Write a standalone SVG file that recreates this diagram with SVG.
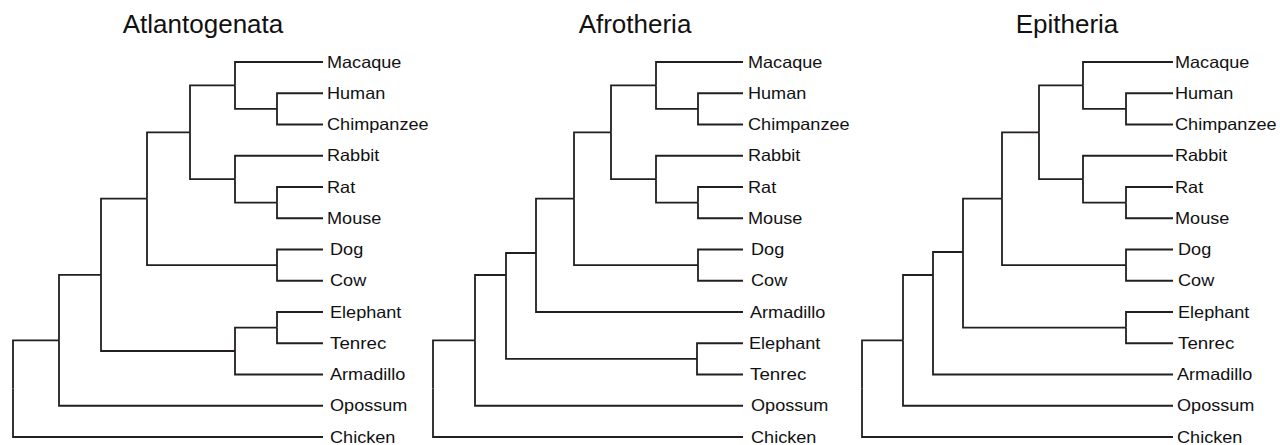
<svg xmlns="http://www.w3.org/2000/svg" width="1280" height="445" viewBox="0 0 1280 445">
<style>
.e{fill:none;stroke:#231f20;stroke-width:1.8;stroke-linejoin:miter;stroke-linecap:butt}
.t{font-family:"Liberation Sans",Arial,sans-serif;font-size:26px;fill:#111;text-anchor:middle}
.l{font-family:"Liberation Sans",Arial,sans-serif;font-size:16.5px;fill:#111}
</style>
<rect width="1280" height="445" fill="#fff"/>
<g id="titles">
<text class="t" x="203" y="33">Atlantogenata</text>
<text class="t" x="635" y="33">Afrotheria</text>
<text class="t" x="1067" y="33">Epitheria</text>
</g>
<g id="connectors">
<g id="tree1-edges">
<path class="e" d="M13 388.6V340.3H59"/>
<path class="e" d="M13 388.6V437H323"/>
<path class="e" d="M59 340.3V274.9H101"/>
<path class="e" d="M59 340.3V405.75H323"/>
<path class="e" d="M101 274.9V198.7H147"/>
<path class="e" d="M101 274.9V351H235"/>
<path class="e" d="M147 198.7V132.3H190"/>
<path class="e" d="M147 198.7V265.1H277"/>
<path class="e" d="M190 132.3V85.4H235"/>
<path class="e" d="M190 132.3V179.2H235"/>
<path class="e" d="M235 85.4V62H323"/>
<path class="e" d="M235 85.4V108.9H277"/>
<path class="e" d="M277 108.9V93.25H323"/>
<path class="e" d="M277 108.9V124.5H323"/>
<path class="e" d="M235 179.2V155.75H323"/>
<path class="e" d="M235 179.2V202.6H277"/>
<path class="e" d="M277 202.6V187H323"/>
<path class="e" d="M277 202.6V218.25H323"/>
<path class="e" d="M277 265.1V249.5H323"/>
<path class="e" d="M277 265.1V280.75H323"/>
<path class="e" d="M235 351V327.6H277"/>
<path class="e" d="M235 351V374.5H323"/>
<path class="e" d="M277 327.6V312H323"/>
<path class="e" d="M277 327.6V343.25H323"/>
</g>
<g id="tree2-edges">
<path class="e" d="M433 388.6V340.4H475"/>
<path class="e" d="M433 388.6V437H743"/>
<path class="e" d="M475 340.4V275H506"/>
<path class="e" d="M475 340.4V405.75H743"/>
<path class="e" d="M506 275V253H536"/>
<path class="e" d="M506 275V358.9H697"/>
<path class="e" d="M536 253V198.7H574"/>
<path class="e" d="M536 253V312H743"/>
<path class="e" d="M574 198.7V132.3H611"/>
<path class="e" d="M574 198.7V265.1H698"/>
<path class="e" d="M611 132.3V85.4H656"/>
<path class="e" d="M611 132.3V179.2H656"/>
<path class="e" d="M656 85.4V62H743"/>
<path class="e" d="M656 85.4V108.9H698"/>
<path class="e" d="M698 108.9V93.25H743"/>
<path class="e" d="M698 108.9V124.5H743"/>
<path class="e" d="M656 179.2V155.75H743"/>
<path class="e" d="M656 179.2V202.6H698"/>
<path class="e" d="M698 202.6V187H743"/>
<path class="e" d="M698 202.6V218.25H743"/>
<path class="e" d="M698 265.1V249.5H743"/>
<path class="e" d="M698 265.1V280.75H743"/>
<path class="e" d="M697 358.9V343.25H743"/>
<path class="e" d="M697 358.9V374.5H743"/>
</g>
<g id="tree3-edges">
<path class="e" d="M862 388.6V340.4H903"/>
<path class="e" d="M862 388.6V437H1173"/>
<path class="e" d="M903 340.4V275H933"/>
<path class="e" d="M903 340.4V405.75H1173"/>
<path class="e" d="M933 275V252H963"/>
<path class="e" d="M933 275V374.5H1173"/>
<path class="e" d="M963 252V198.7H1002"/>
<path class="e" d="M963 252V327.6H1126"/>
<path class="e" d="M1002 198.7V132.3H1039"/>
<path class="e" d="M1002 198.7V265.1H1126"/>
<path class="e" d="M1039 132.3V85.4H1083"/>
<path class="e" d="M1039 132.3V179.2H1083"/>
<path class="e" d="M1083 85.4V62H1173"/>
<path class="e" d="M1083 85.4V108.9H1126"/>
<path class="e" d="M1126 108.9V93.25H1173"/>
<path class="e" d="M1126 108.9V124.5H1173"/>
<path class="e" d="M1083 179.2V155.75H1173"/>
<path class="e" d="M1083 179.2V202.6H1126"/>
<path class="e" d="M1126 202.6V187H1173"/>
<path class="e" d="M1126 202.6V218.25H1173"/>
<path class="e" d="M1126 265.1V249.5H1173"/>
<path class="e" d="M1126 265.1V280.75H1173"/>
<path class="e" d="M1126 327.6V312H1173"/>
<path class="e" d="M1126 327.6V343.25H1173"/>
</g>
</g>
<g id="tree1-leaves">
<g id="t1-macaque"><text class="l" x="327" y="67.5" textLength="74.4" lengthAdjust="spacingAndGlyphs">Macaque</text></g>
<g id="t1-human"><text class="l" x="327" y="98.75" textLength="58.3" lengthAdjust="spacingAndGlyphs">Human</text></g>
<g id="t1-chimpanzee"><text class="l" x="327" y="130" textLength="101.6" lengthAdjust="spacingAndGlyphs">Chimpanzee</text></g>
<g id="t1-rabbit"><text class="l" x="327" y="161.25" textLength="52.3" lengthAdjust="spacingAndGlyphs">Rabbit</text></g>
<g id="t1-rat"><text class="l" x="327" y="192.5" textLength="28.2" lengthAdjust="spacingAndGlyphs">Rat</text></g>
<g id="t1-mouse"><text class="l" x="327" y="223.75" textLength="54.3" lengthAdjust="spacingAndGlyphs">Mouse</text></g>
<g id="t1-dog"><text class="l" x="330" y="255" textLength="33.2" lengthAdjust="spacingAndGlyphs">Dog</text></g>
<g id="t1-cow"><text class="l" x="330" y="286.25" textLength="36.2" lengthAdjust="spacingAndGlyphs">Cow</text></g>
<g id="t1-elephant"><text class="l" x="330" y="317.5" textLength="71.4" lengthAdjust="spacingAndGlyphs">Elephant</text></g>
<g id="t1-tenrec"><text class="l" x="330" y="348.75" textLength="56.3" lengthAdjust="spacingAndGlyphs">Tenrec</text></g>
<g id="t1-armadillo"><text class="l" x="330" y="380" textLength="75.4" lengthAdjust="spacingAndGlyphs">Armadillo</text></g>
<g id="t1-opossum"><text class="l" x="330" y="411.25" textLength="77.4" lengthAdjust="spacingAndGlyphs">Opossum</text></g>
<g id="t1-chicken"><text class="l" x="330" y="442.5" textLength="65.4" lengthAdjust="spacingAndGlyphs">Chicken</text></g>
</g>
<g id="tree2-leaves">
<g id="t2-macaque"><text class="l" x="748" y="67.5" textLength="74.4" lengthAdjust="spacingAndGlyphs">Macaque</text></g>
<g id="t2-human"><text class="l" x="748" y="98.75" textLength="58.3" lengthAdjust="spacingAndGlyphs">Human</text></g>
<g id="t2-chimpanzee"><text class="l" x="748" y="130" textLength="101.6" lengthAdjust="spacingAndGlyphs">Chimpanzee</text></g>
<g id="t2-rabbit"><text class="l" x="748" y="161.25" textLength="52.3" lengthAdjust="spacingAndGlyphs">Rabbit</text></g>
<g id="t2-rat"><text class="l" x="748" y="192.5" textLength="28.2" lengthAdjust="spacingAndGlyphs">Rat</text></g>
<g id="t2-mouse"><text class="l" x="748" y="223.75" textLength="54.3" lengthAdjust="spacingAndGlyphs">Mouse</text></g>
<g id="t2-dog"><text class="l" x="751" y="255" textLength="33.2" lengthAdjust="spacingAndGlyphs">Dog</text></g>
<g id="t2-cow"><text class="l" x="751" y="286.25" textLength="36.2" lengthAdjust="spacingAndGlyphs">Cow</text></g>
<g id="t2-armadillo"><text class="l" x="750" y="317.5" textLength="75.4" lengthAdjust="spacingAndGlyphs">Armadillo</text></g>
<g id="t2-elephant"><text class="l" x="749" y="348.75" textLength="71.4" lengthAdjust="spacingAndGlyphs">Elephant</text></g>
<g id="t2-tenrec"><text class="l" x="750" y="380" textLength="56.3" lengthAdjust="spacingAndGlyphs">Tenrec</text></g>
<g id="t2-opossum"><text class="l" x="751" y="411.25" textLength="77.4" lengthAdjust="spacingAndGlyphs">Opossum</text></g>
<g id="t2-chicken"><text class="l" x="751" y="442.5" textLength="65.4" lengthAdjust="spacingAndGlyphs">Chicken</text></g>
</g>
<g id="tree3-leaves">
<g id="t3-macaque"><text class="l" x="1175" y="67.5" textLength="74.4" lengthAdjust="spacingAndGlyphs">Macaque</text></g>
<g id="t3-human"><text class="l" x="1175" y="98.75" textLength="58.3" lengthAdjust="spacingAndGlyphs">Human</text></g>
<g id="t3-chimpanzee"><text class="l" x="1175" y="130" textLength="101.6" lengthAdjust="spacingAndGlyphs">Chimpanzee</text></g>
<g id="t3-rabbit"><text class="l" x="1175" y="161.25" textLength="52.3" lengthAdjust="spacingAndGlyphs">Rabbit</text></g>
<g id="t3-rat"><text class="l" x="1175" y="192.5" textLength="28.2" lengthAdjust="spacingAndGlyphs">Rat</text></g>
<g id="t3-mouse"><text class="l" x="1175" y="223.75" textLength="54.3" lengthAdjust="spacingAndGlyphs">Mouse</text></g>
<g id="t3-dog"><text class="l" x="1178" y="255" textLength="33.2" lengthAdjust="spacingAndGlyphs">Dog</text></g>
<g id="t3-cow"><text class="l" x="1178" y="286.25" textLength="36.2" lengthAdjust="spacingAndGlyphs">Cow</text></g>
<g id="t3-elephant"><text class="l" x="1178" y="317.5" textLength="71.4" lengthAdjust="spacingAndGlyphs">Elephant</text></g>
<g id="t3-tenrec"><text class="l" x="1178" y="348.75" textLength="56.3" lengthAdjust="spacingAndGlyphs">Tenrec</text></g>
<g id="t3-armadillo"><text class="l" x="1177" y="380" textLength="75.4" lengthAdjust="spacingAndGlyphs">Armadillo</text></g>
<g id="t3-opossum"><text class="l" x="1177" y="411.25" textLength="77.4" lengthAdjust="spacingAndGlyphs">Opossum</text></g>
<g id="t3-chicken"><text class="l" x="1177" y="442.5" textLength="65.4" lengthAdjust="spacingAndGlyphs">Chicken</text></g>
</g>
</svg>
